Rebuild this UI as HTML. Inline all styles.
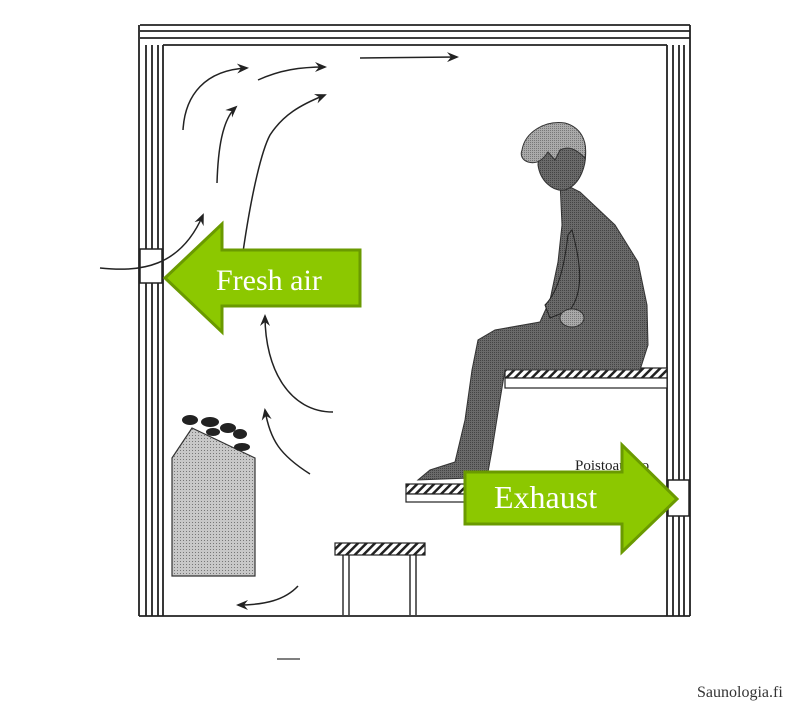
<!DOCTYPE html>
<html><head><meta charset="utf-8"><style>
html,body{margin:0;padding:0;background:#fff;width:806px;height:705px;overflow:hidden}
svg{display:block}
</style></head><body>
<svg width="806" height="705" viewBox="0 0 806 705" xmlns="http://www.w3.org/2000/svg">
<defs>
<pattern id="dots" width="3" height="3" patternUnits="userSpaceOnUse"><rect width="3" height="3" fill="#c8c8c8"/><rect width="1" height="1" fill="#777"/></pattern>
<pattern id="dark" width="2" height="2" patternUnits="userSpaceOnUse"><rect width="2" height="2" fill="#6a6a6a"/><rect width="1" height="1" fill="#444"/></pattern>
<pattern id="light" width="2" height="2" patternUnits="userSpaceOnUse"><rect width="2" height="2" fill="#aaa"/><rect width="1" height="1" fill="#777"/></pattern>
<pattern id="hatch" width="6" height="6" patternUnits="userSpaceOnUse" patternTransform="rotate(45)"><rect width="6" height="6" fill="#fff"/><rect width="2.5" height="6" fill="#222"/></pattern>
<marker id="ah" markerWidth="12" markerHeight="10" refX="10" refY="5" orient="auto" markerUnits="userSpaceOnUse"><path d="M0,0 L12,5 L0,10 L4,5 Z" fill="#222"/></marker>
</defs>
<g stroke="#222" stroke-width="1.8" fill="none">
<line x1="140" y1="25" x2="690" y2="25"/>
<line x1="140" y1="31" x2="690" y2="31"/>
<line x1="140" y1="38" x2="690" y2="38"/>
<line x1="163" y1="45" x2="667" y2="45"/>
<line x1="139" y1="25" x2="139" y2="616"/>
<line x1="146" y1="45" x2="146" y2="616"/>
<line x1="152" y1="45" x2="152" y2="616"/>
<line x1="158" y1="45" x2="158" y2="616"/>
<line x1="163" y1="45" x2="163" y2="616"/>
<line x1="667" y1="45" x2="667" y2="616"/>
<line x1="673" y1="45" x2="673" y2="616"/>
<line x1="679" y1="45" x2="679" y2="616"/>
<line x1="684" y1="45" x2="684" y2="616"/>
<line x1="690" y1="25" x2="690" y2="616"/>
<line x1="139" y1="616" x2="690" y2="616"/>
</g>
<rect x="140" y="249" width="22" height="34" fill="#fff" stroke="#222" stroke-width="1.5"/>
<rect x="668" y="480" width="21" height="36" fill="#fff" stroke="#222" stroke-width="1.5"/>
<g stroke="#222" stroke-width="1.5" fill="none" marker-end="url(#ah)">
<path d="M183,130 C185,95 205,70 247,68"/>
<path d="M258,80 C280,70 300,67 325,67"/>
<path d="M360,58 L457,57"/>
<path d="M217,183 C218,150 222,120 236,107"/>
<path d="M243,252 C252,190 262,150 270,135 C283,115 300,105 325,95"/>
<path d="M100,268 C140,272 180,268 203,215"/>
<path d="M333,412 C290,412 265,370 265,316"/>
<path d="M310,474 C280,455 270,440 265,410"/>
<path d="M298,586 C285,600 265,605 238,605"/>
</g>
<line x1="277" y1="659" x2="300" y2="659" stroke="#555" stroke-width="1.5"/>
<path d="M172,458 L192,428 L255,458 L255,576 L172,576 Z" fill="url(#dots)" stroke="#333" stroke-width="1.2"/>
<g fill="#222">
<ellipse cx="190" cy="420" rx="8" ry="5"/><ellipse cx="210" cy="422" rx="9" ry="5"/><ellipse cx="228" cy="428" rx="8" ry="5"/>
<ellipse cx="240" cy="434" rx="7" ry="5"/><ellipse cx="213" cy="432" rx="7" ry="4"/><ellipse cx="242" cy="447" rx="8" ry="4"/>
</g>
<rect x="335" y="543" width="90" height="12" fill="url(#hatch)" stroke="#222" stroke-width="1.2"/>
<g stroke="#222" stroke-width="1.4"><line x1="343" y1="555" x2="343" y2="615"/><line x1="349" y1="555" x2="349" y2="615"/><line x1="410" y1="555" x2="410" y2="615"/><line x1="416" y1="555" x2="416" y2="615"/></g>
<rect x="406" y="484" width="70" height="10" fill="url(#hatch)" stroke="#222" stroke-width="1.2"/>
<rect x="406" y="494" width="70" height="8" fill="#fff" stroke="#222" stroke-width="1.2"/>
<rect x="505" y="368" width="162" height="10" fill="url(#hatch)" stroke="#222" stroke-width="1.2"/>
<rect x="505" y="378" width="162" height="10" fill="#fff" stroke="#222" stroke-width="1.2"/>
<!-- person -->
<path d="M560,182 L580,192 L615,225 L638,262 L647,305 L648,345 L640,370 L505,370 L500,400 L492,450 L488,472 L470,478 L418,480 L430,470 L455,462 L465,420 L472,370 L478,340 L495,330 L540,322 L550,300 L558,262 L562,225 Z" fill="url(#dark)" stroke="#333" stroke-width="1"/>
<path d="M572,230 C580,260 585,290 570,310 L550,318 L545,305 C560,290 565,260 568,235 Z" fill="url(#dark)" stroke="#222" stroke-width="1"/>
<ellipse cx="572" cy="318" rx="12" ry="9" fill="url(#light)" stroke="#333" stroke-width="1"/>
<path d="M540,130 C555,118 580,125 585,145 C588,165 580,185 565,190 C552,192 540,180 538,165 Z" fill="url(#dark)" stroke="#333" stroke-width="1"/>
<path d="M522,150 C525,132 545,120 565,123 C580,127 588,140 585,158 C575,148 568,146 560,150 L555,160 L548,152 C544,158 538,165 528,162 C522,160 520,155 522,150 Z" fill="url(#light)" stroke="#333" stroke-width="1"/>
<text x="575" y="470" font-family="Liberation Serif, serif" font-size="15" fill="#222">Poistoaukko</text>
<path d="M165,278 L222,224 L222,250 L360,250 L360,306 L222,306 L222,332 Z" fill="#8cc800" stroke="#6a9a00" stroke-width="3"/>
<text x="216" y="290" font-family="Liberation Serif, serif" font-size="30" fill="#fff">Fresh air</text>
<path d="M677,499 L622,445 L622,472 L465,472 L465,524 L622,524 L622,552 Z" fill="#8cc800" stroke="#6a9a00" stroke-width="3"/>
<text x="494" y="508" font-family="Liberation Serif, serif" font-size="32" fill="#fff">Exhaust</text>
<text x="697" y="697" font-family="Liberation Serif, serif" font-size="16" fill="#333">Saunologia.fi</text>
</svg>
</body></html>
